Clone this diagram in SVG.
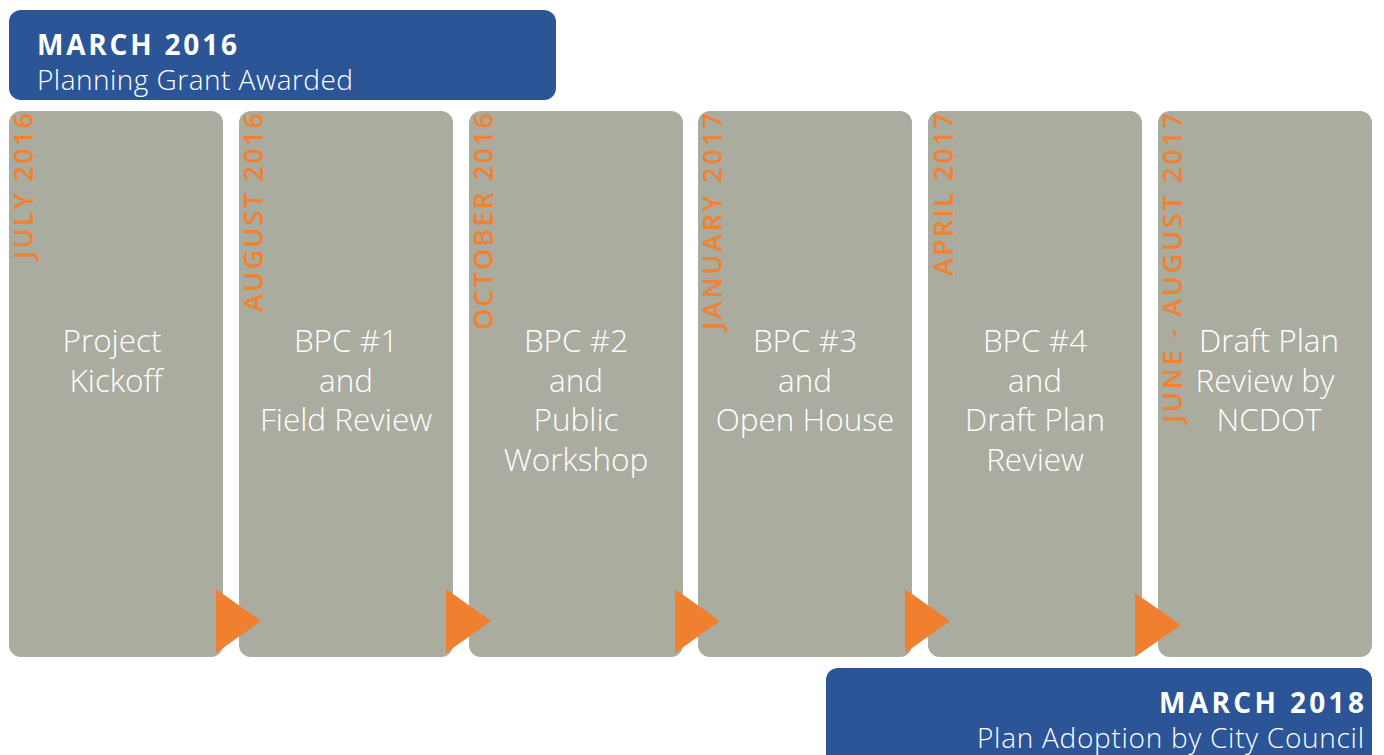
<svg xmlns="http://www.w3.org/2000/svg" width="1384" height="755" viewBox="0 0 1384 755">
  <style>
    .banner { fill: #2B5597; }
    .col { fill: #AAACA0; }
    .head { font-family: "Open Sans", "Liberation Sans", sans-serif; font-size: 28px; font-weight: 700; fill: #FFFFFF; }
    .sub { font-family: "Open Sans", "Liberation Sans", sans-serif; font-size: 28px; font-weight: 300; fill: #FFFFFF; }
    .date { font-family: "Open Sans", "Liberation Sans", sans-serif; font-size: 27px; font-weight: 600; fill: #F08232; }
    .label { font-family: "Open Sans", "Liberation Sans", sans-serif; font-size: 31.5px; font-weight: 300; fill: #FFFFFF; text-anchor: middle; }
    .arrow { fill: #F08030; }
  </style>

  <!-- start milestone -->
  <g id="start">
    <rect class="banner" x="9" y="10" width="547" height="90" rx="12"/>
    <text class="head" x="37" y="55" textLength="200" lengthAdjust="spacing">MARCH 2016</text>
    <text class="sub" x="37" y="90" textLength="316" lengthAdjust="spacing">Planning Grant Awarded</text>
  </g>

  <!-- timeline steps -->
  <g id="step1">
    <rect class="col" x="9" y="111" width="214" height="546" rx="12"/>
    <text class="date" transform="translate(33,113) rotate(-90)" text-anchor="end" textLength="146" lengthAdjust="spacing">JULY 2016</text>
    <text class="label" x="112" y="352">Project</text>
    <text class="label" x="116" y="392">Kickoff</text>
  </g>
  <g id="step2">
    <rect class="col" x="239" y="111" width="214" height="546" rx="12"/>
    <text class="date" transform="translate(263,113) rotate(-90)" text-anchor="end" textLength="199" lengthAdjust="spacing">AUGUST 2016</text>
    <text class="label" x="346" y="352">BPC #1</text>
    <text class="label" x="346" y="392">and</text>
    <text class="label" x="346" y="431">Field Review</text>
  </g>
  <g id="step3">
    <rect class="col" x="469" y="111" width="214" height="546" rx="12"/>
    <text class="date" transform="translate(493,113) rotate(-90)" text-anchor="end" textLength="217" lengthAdjust="spacing">OCTOBER 2016</text>
    <text class="label" x="576" y="352">BPC #2</text>
    <text class="label" x="576" y="392">and</text>
    <text class="label" x="576" y="431">Public</text>
    <text class="label" x="576" y="471">Workshop</text>
  </g>
  <g id="step4">
    <rect class="col" x="698" y="111" width="214" height="546" rx="12"/>
    <text class="date" transform="translate(722,113) rotate(-90)" text-anchor="end" textLength="217" lengthAdjust="spacing">JANUARY 2017</text>
    <text class="label" x="805" y="352">BPC #3</text>
    <text class="label" x="805" y="392">and</text>
    <text class="label" x="805" y="431">Open House</text>
  </g>
  <g id="step5">
    <rect class="col" x="928" y="111" width="214" height="546" rx="12"/>
    <text class="date" transform="translate(953,113) rotate(-90)" text-anchor="end" textLength="163" lengthAdjust="spacing">APRIL 2017</text>
    <text class="label" x="1035" y="352">BPC #4</text>
    <text class="label" x="1035" y="392">and</text>
    <text class="label" x="1035" y="431">Draft Plan</text>
    <text class="label" x="1035" y="471">Review</text>
  </g>
  <g id="step6">
    <rect class="col" x="1158" y="111" width="214" height="546" rx="12"/>
    <text class="date" transform="translate(1182,113) rotate(-90)" text-anchor="end" textLength="310" lengthAdjust="spacing">JUNE - AUGUST 2017</text>
    <text class="label" x="1269" y="352">Draft Plan</text>
    <text class="label" x="1265" y="392">Review by</text>
    <text class="label" x="1269" y="431">NCDOT</text>
  </g>

  <!-- end milestone -->
  <g id="end">
    <rect class="banner" x="826" y="668" width="546" height="110" rx="12"/>
    <text class="head" x="1364" y="713" text-anchor="end" textLength="205" lengthAdjust="spacing">MARCH 2018</text>
    <text class="sub" x="1364" y="748" text-anchor="end" textLength="387" lengthAdjust="spacing">Plan Adoption by City Council</text>
  </g>

  <!-- step-to-step arrows -->
  <g id="connectors">
    <polygon class="arrow" points="216,589 261,621 216,653"/>
    <polygon class="arrow" points="446,589 491,621 446,653"/>
    <polygon class="arrow" points="675,589 720,621 675,653"/>
    <polygon class="arrow" points="905,589 950,621 905,653"/>
    <polygon class="arrow" points="1135,593 1181,625 1135,657"/>
  </g>
</svg>
